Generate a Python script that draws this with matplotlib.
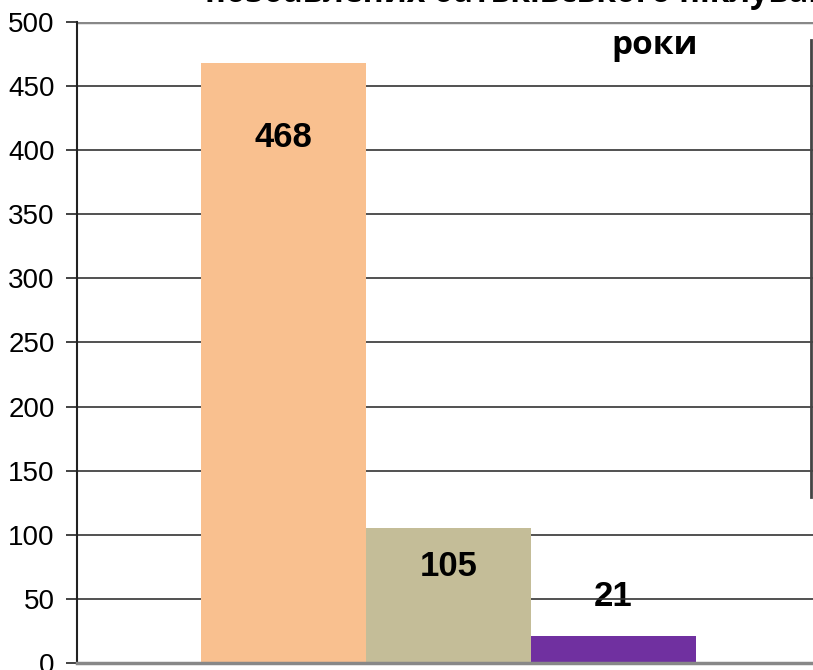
import matplotlib.pyplot as plt
from matplotlib.lines import Line2D

# Data
categories = ['A', 'B', 'C']
values = [468, 105, 21]
label_pos = [410, 75, 52]
colors = ['#F9C08F', '#C4BD98', '#7030A0']
yticks = [0, 50, 100, 150, 200, 250, 300, 350, 400, 450, 500]

fig = plt.figure(figsize=(8.13, 6.70), dpi=100)
ax = fig.add_axes([77 / 813, 7 / 670, 736 / 813, 641 / 670])

x = list(range(len(categories)))
ax.bar(x, values, width=1.0, color=colors, zorder=2)

# value labels
for i, (v, lp) in enumerate(zip(values, label_pos)):
    ax.text(i, lp, str(v), ha='center', va='center', fontsize=25,
            fontweight='bold', family='Liberation Sans', fontstretch='normal',
            zorder=3 if lp < v else 0.5)

ax.set_xlim(-1.25, 3.21)
ax.set_ylim(0, 500)
ax.set_yticks(yticks)
ax.set_xticks([])
for t in ax.get_yticklabels():
    t.set_family('Liberation Sans')
    t.set_fontstretch('normal')
ax.tick_params(axis='y', direction='out', length=8, width=1.2,
               color='#222222', labelsize=20, pad=8)

for y in yticks[1:-1]:
    ax.axhline(y, color='#333333', lw=1.2, zorder=1)
ax.axhline(500, color='#888888', lw=2.5, zorder=1)

for s in ['top', 'right']:
    ax.spines[s].set_visible(False)
ax.spines['left'].set_color('#222222')
ax.spines['left'].set_linewidth(1.5)
ax.spines['bottom'].set_color('#888888')
ax.spines['bottom'].set_linewidth(2.5)

# partial title and legend frame, cut off at the edges
fig.text(205 / 813, 1 - 2 / 670, 'позбавлених батьківського піклування',
         ha='left', va='baseline', fontsize=23, fontweight='bold',
         family='Open Sans')
fig.text(655 / 813, 1 - 54 / 670, 'роки', ha='center', va='baseline',
         fontsize=24, fontweight='bold', family='Open Sans')
fig.add_artist(Line2D([811 / 813, 811 / 813], [1 - 40 / 670, 1 - 497 / 670],
                      color='#444444', lw=2, transform=fig.transFigure))

fig.savefig('out.png', dpi=100)
